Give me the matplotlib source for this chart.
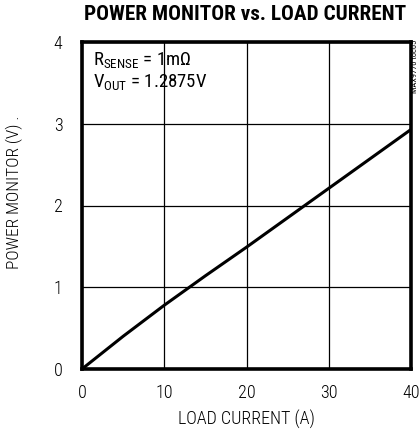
import matplotlib
matplotlib.use("Agg")
import matplotlib.pyplot as plt

load_current = [0, 5, 10, 15, 20, 25, 30, 35, 40]
power_monitor = [0, 0.40, 0.78, 1.14, 1.49, 1.85, 2.21, 2.57, 2.93]
x_ticks = [0, 10, 20, 30, 40]
y_ticks = [0, 1, 2, 3, 4]

FONT = ["Roboto Condensed", "DejaVu Sans"]
plt.rcParams['font.family'] = FONT
plt.rcParams['mathtext.fontset'] = 'custom'
plt.rcParams['mathtext.rm'] = 'Roboto Condensed'
plt.rcParams['mathtext.it'] = 'Roboto Condensed'
plt.rcParams['mathtext.bf'] = 'Roboto Condensed'

fig = plt.figure(figsize=(4.19, 4.30), dpi=100)
ax = fig.add_axes([82/419, 61/430, 329/419, 327/430])

ax.plot(load_current, power_monitor, color='black', lw=2.2, solid_capstyle='butt')
ax.set_xlim(0, 40)
ax.set_ylim(0, 4)
ax.set_xticks(x_ticks)
ax.set_yticks(y_ticks)
ax.grid(True, color='black', lw=0.9)
ax.tick_params(length=0, labelsize=13)
ax.tick_params(axis='x', pad=11)
ax.tick_params(axis='y', pad=14)
for lbl in ax.get_xticklabels() + ax.get_yticklabels():
    lbl.set_fontweight('light')
for s in ax.spines.values():
    s.set_linewidth(2.6)

ax.set_xlabel("LOAD CURRENT (A)", fontsize=13, va='center', fontweight='light')
ax.xaxis.set_label_coords(0.5, -0.155)
ax.set_ylabel("POWER MONITOR (V) .", fontsize=12.5, va='center', fontweight='light')
ax.yaxis.set_label_coords(-0.204, 0.541)

fig.text(245/419, 1 - 14/430, "POWER MONITOR vs. LOAD CURRENT", fontsize=15.3,
         fontweight='heavy', ha='center', va='center')

ax.text(0.033, 0.976, "R$_{\\mathrm{SENSE}}$ = 1mΩ", transform=ax.transAxes,
        fontsize=13.5, va='top', ha='left')
ax.text(0.033, 0.909, "V$_{\\mathrm{OUT}}$ = 1.2875V", transform=ax.transAxes,
        fontsize=13.5, va='top', ha='left')

fig.text(415/419, 1 - 40/430, "MAX9770 toc05", rotation=90, fontsize=6,
         ha='center', va='top')

fig.savefig("out.png", dpi=100)
